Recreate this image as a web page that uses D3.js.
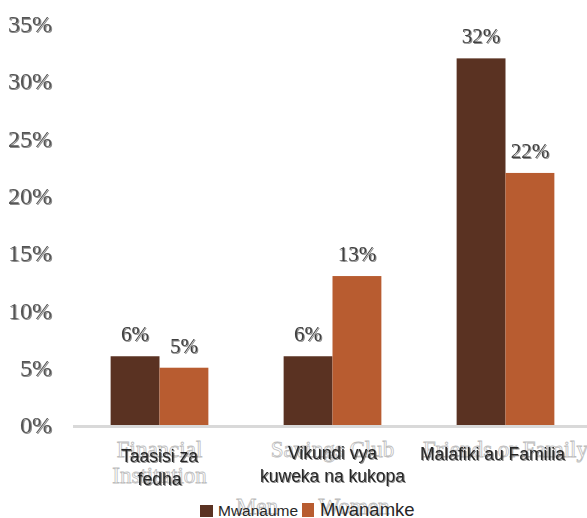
<!DOCTYPE html>
<html lang="sw">
<head>
    <meta charset="UTF-8">
    <title>mikopo-bar</title>
    <script src="https://cdn.jsdelivr.net/npm/d3@7"></script>
    <style>
        body { margin: 0; background: #fff; }
    </style>
</head>
<body>
    <svg class="chart"></svg>
</body>
<script>
    // data
    var categories = [["Taasisi za", "fedha"], ["Vikundi vya", "kuweka na kukopa"], ["Malafiki au Familia"]];
    var ghostCategories = [["Financial", "Institution"], ["Savings Club"], ["Friends or Family"]];
    var seriesNames = ["Mwanaume", "Mwanamke"];
    var ghostSeries = ["Men", "Women"];
    var mwanaume = [6, 6, 32];
    var mwanamke = [5, 13, 22];
    var yTicks = [0, 5, 10, 15, 20, 25, 30, 35];
    var colors = ["#5a3222", "#b85c30"];

    var width = 587, height = 518;
    var plotLeft = 73, plotRight = 592, base = 425, plotTop = 24;

    var svg = d3.select('.chart')
        .attr('width', width)
        .attr('height', height);

    var defs = svg.append('defs');
    defs.append('filter').attr('id', 'sh')
        .attr('x', '-20%').attr('y', '-20%').attr('width', '140%').attr('height', '140%')
        .append('feDropShadow')
        .attr('dx', 1).attr('dy', 1).attr('stdDeviation', 0.7)
        .attr('flood-color', '#000').attr('flood-opacity', 0.45);

    var x0 = d3.scaleBand()
        .domain(d3.range(categories.length))
        .range([plotLeft, plotRight])
        .paddingInner(0.435)
        .paddingOuter(0.2175);

    var x1 = d3.scaleBand()
        .domain(d3.range(seriesNames.length))
        .range([0, x0.bandwidth()]);

    var y = d3.scaleLinear()
        .domain([0, 35])
        .range([base, plotTop]);

    // y axis labels
    var yAxis = svg.append('g')
        .attr('transform', 'translate(52,0)')
        .call(d3.axisLeft(y).tickValues(yTicks).tickSize(0).tickPadding(0)
            .tickFormat(function (d) { return d + '%'; }));
    yAxis.select('.domain').remove();
    yAxis.selectAll('text')
        .attr('font-family', '"Liberation Serif", "Times New Roman", serif')
        .attr('font-size', 24)
        .attr('fill', '#555')
        .attr('filter', 'url(#sh)');

    // ghost text (behind)
    var ghost = svg.append('g')
        .attr('font-family', '"Liberation Serif", serif')
        .attr('font-size', 23)
        .attr('fill', '#fff')
        .attr('stroke', '#bdbdbd')
        .attr('stroke-width', 0.8)
        .attr('text-anchor', 'middle');
    ghostCategories.forEach(function (lines, i) {
        var cx = x0(i) + x0.bandwidth() / 2;
        lines.forEach(function (t, j) {
            ghost.append('text').attr('x', cx).attr('y', 457 + j * 26).text(t);
        });
    });
    ghost.append('text').attr('x', 257).attr('y', 514).text(ghostSeries[0]);
    ghost.append('text').attr('x', 354).attr('y', 514).text(ghostSeries[1]);

    // bars
    var groups = svg.selectAll('g.grp')
        .data(categories)
        .enter()
        .append('g')
        .attr('class', 'grp')
        .attr('transform', function (d, i) { return 'translate(' + x0(i) + ',0)'; });

    var vals = [mwanaume, mwanamke];
    groups.each(function (d, i) {
        var g = d3.select(this);
        vals.forEach(function (s, k) {
            g.append('rect')
                .attr('x', x1(k))
                .attr('y', y(s[i]))
                .attr('width', x1.bandwidth())
                .attr('height', base - y(s[i]))
                .attr('fill', colors[k]);
            g.append('text')
                .attr('x', x1(k) + x1.bandwidth() / 2)
                .attr('y', y(s[i]) - 15)
                .attr('text-anchor', 'middle')
                .attr('font-family', '"Liberation Serif", serif')
                .attr('font-size', 21)
                .attr('fill', '#404040')
                .attr('filter', 'url(#sh)')
                .text(s[i] + '%');
        });
    });

    // baseline
    svg.append('line')
        .attr('x1', plotLeft).attr('x2', width)
        .attr('y1', base + 1.5).attr('y2', base + 1.5)
        .attr('stroke', '#d9d9d9')
        .attr('stroke-width', 3);

    // category labels
    var cat = svg.append('g')
        .attr('font-family', '"Liberation Sans", Arial, sans-serif')
        .attr('font-size', 17.5)
        .attr('fill', '#262626')
        .attr('filter', 'url(#sh)');
    var catBase = [462, 459, 460];
    categories.forEach(function (lines, i) {
        var cx = x0(i) + x0.bandwidth() / 2;
        lines.forEach(function (t, j) {
            var tx = cat.append('text')
                .attr('y', catBase[i] + j * 23)
                .text(t);
            if (i === 2) tx.attr('x', 420);
            else tx.attr('x', cx).attr('text-anchor', 'middle');
        });
    });

    // legend
    var leg = svg.append('g')
        .attr('font-family', '"Liberation Sans", Arial, sans-serif')
        .attr('fill', '#262626');
    leg.append('rect').attr('x', 200).attr('y', 505).attr('width', 13).attr('height', 12).attr('fill', colors[0]);
    leg.append('text').attr('x', 218).attr('y', 516).attr('font-size', 15.5).text(seriesNames[0]);
    leg.append('rect').attr('x', 302).attr('y', 503).attr('width', 12).attr('height', 14).attr('fill', colors[1]);
    leg.append('text').attr('x', 320).attr('y', 516).attr('font-size', 18.5).text(seriesNames[1]);
</script>
</html>
